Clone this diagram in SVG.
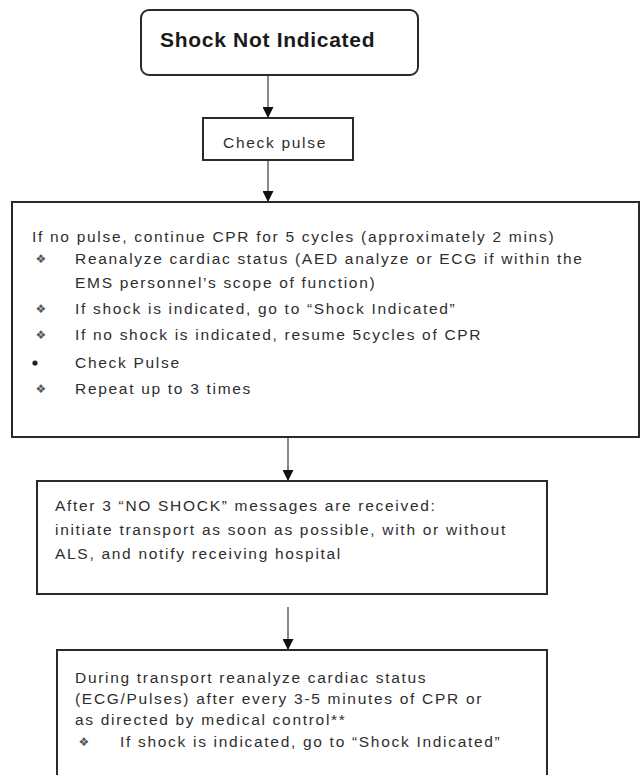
<svg xmlns="http://www.w3.org/2000/svg" width="642" height="775" viewBox="0 0 642 775">
<defs>
<marker id="ah" viewBox="0 0 10 10" refX="10" refY="5" markerWidth="11" markerHeight="11" markerUnits="userSpaceOnUse" orient="auto">
<path d="M0,0 L10,5 L0,10 Z" fill="#111"/>
</marker>
<style>
.box{fill:#fff;stroke:#2a2a2a;stroke-width:2}
.t{font-family:"Liberation Sans",Arial,sans-serif;font-size:15.5px;letter-spacing:1.7px;fill:#2e2e2e}
.b{font-family:"DejaVu Sans",sans-serif;font-size:12px;fill:#555}
.h{font-family:"Liberation Sans",Arial,sans-serif;font-size:21px;letter-spacing:0.7px;font-weight:bold;fill:#1a1a1a}
.c{stroke:#888;stroke-width:2;fill:none}
</style>
</defs>
<rect width="642" height="775" fill="#fff"/>
<g id="connectors">
<line class="c" x1="268" y1="76" x2="268" y2="118" marker-end="url(#ah)"/>
<line class="c" x1="268" y1="161" x2="268" y2="202" marker-end="url(#ah)"/>
<line class="c" x1="288" y1="438" x2="288" y2="481" marker-end="url(#ah)"/>
<line class="c" x1="288" y1="607" x2="288" y2="650" marker-end="url(#ah)"/>
</g>
<g id="n1">
<rect class="box" x="141" y="10" width="277" height="65" rx="8"/>
<text class="h" x="160" y="47">Shock Not Indicated</text>
</g>
<g id="n2">
<rect class="box" x="203" y="118" width="150" height="42"/>
<text class="t" x="275" y="148" text-anchor="middle">Check pulse</text>
</g>
<g id="n3">
<rect class="box" x="12" y="202" width="627" height="235"/>
<text class="t" x="32" y="242">If no pulse, continue CPR for 5 cycles (approximately 2 mins)</text>
<text class="b" x="35.5" y="263">❖</text>
<text class="t" x="75" y="264">Reanalyze cardiac status (AED analyze or ECG if within the</text>
<text class="t" x="75" y="288">EMS personnel’s scope of function)</text>
<text class="b" x="35.5" y="313">❖</text>
<text class="t" x="75" y="314">If shock is indicated, go to “Shock Indicated”</text>
<text class="b" x="35.5" y="339">❖</text>
<text class="t" x="75" y="340">If no shock is indicated, resume 5cycles of CPR</text>
<circle cx="35" cy="363" r="2.6" fill="#222"/>
<text class="t" x="75" y="368">Check Pulse</text>
<text class="b" x="35.5" y="393">❖</text>
<text class="t" x="75" y="394">Repeat up to 3 times</text>
</g>
<g id="n4">
<rect class="box" x="37" y="481" width="510" height="113"/>
<text class="t" x="55" y="511">After 3 “NO SHOCK” messages are received:</text>
<text class="t" x="55" y="535">initiate transport as soon as possible, with or without</text>
<text class="t" x="55" y="559">ALS, and notify receiving hospital</text>
</g>
<g id="n5">
<rect class="box" x="57" y="650" width="490" height="140"/>
<text class="t" x="75" y="683">During transport reanalyze cardiac status</text>
<text class="t" x="75" y="704">(ECG/Pulses) after every 3-5 minutes of CPR or</text>
<text class="t" x="75" y="725">as directed by medical control**</text>
<text class="b" x="78.5" y="746">❖</text>
<text class="t" x="120" y="747">If shock is indicated, go to “Shock Indicated”</text>
</g>
</svg>
